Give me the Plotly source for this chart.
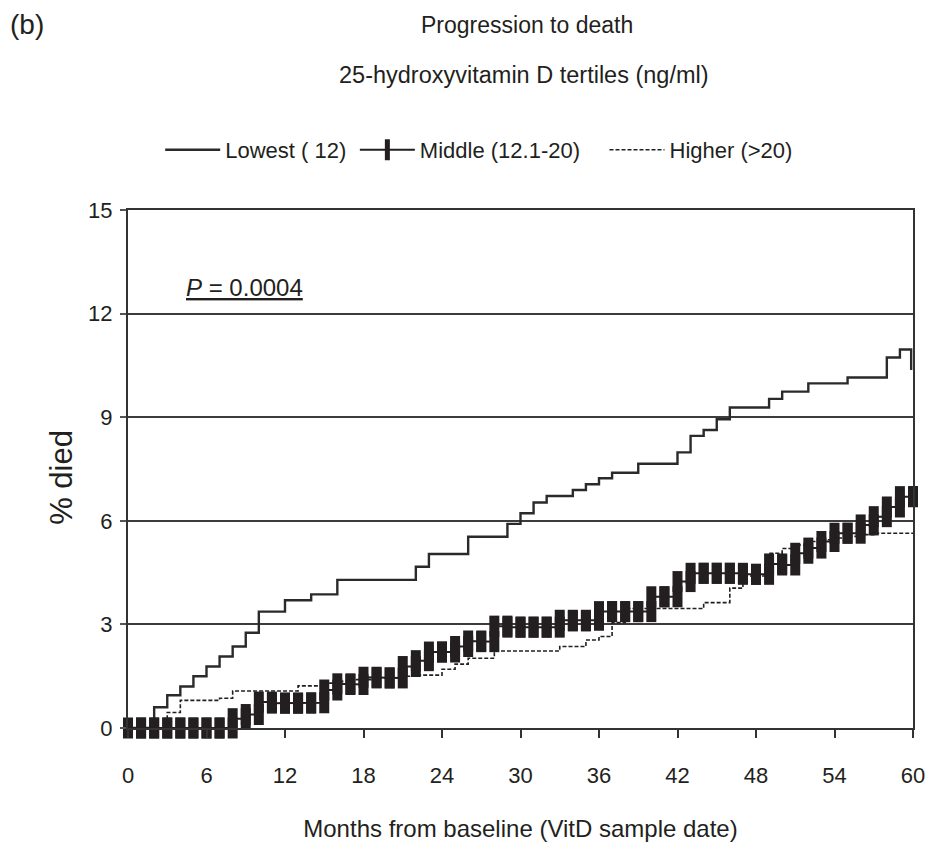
import plotly.graph_objects as go

# ---- data ----
months = list(range(0, 61))

# Lowest tertile (<12 ng/ml): step points (month, % died)
lowest_x = [0, 2, 3, 4, 5, 6, 7, 8, 9, 10, 12, 14, 16, 22, 23, 26, 29, 30, 31, 32,
            34, 35, 36, 37, 39, 42, 43, 44, 45, 46, 49, 50, 52, 55, 58, 59, 59.86]
lowest_y = [0, 0.6, 0.95, 1.2, 1.5, 1.78, 2.07, 2.36, 2.76, 3.37, 3.7, 3.87, 4.29, 4.67, 5.04,
            5.54, 5.91, 6.22, 6.53, 6.72, 6.89, 7.06, 7.23, 7.39, 7.65, 7.98, 8.46, 8.63, 8.94,
            9.28, 9.53, 9.74, 9.98, 10.15, 10.73, 10.96, 10.37]

# Middle tertile (12.1-20 ng/ml): value at each month 0..60
middle_y = [0, 0, 0, 0, 0, 0, 0, 0, 0.27, 0.39, 0.75, 0.72, 0.72, 0.72, 0.73, 1.1, 1.28,
            1.26, 1.47, 1.45, 1.45, 1.78, 1.95, 2.2, 2.2, 2.36, 2.52, 2.5, 2.95, 2.92, 2.92,
            2.92, 2.92, 3.12, 3.1, 3.12, 3.37, 3.37, 3.37, 3.37, 3.8, 3.8, 4.24, 4.48, 4.48,
            4.48, 4.48, 4.45, 4.45, 4.75, 4.72, 5.06, 5.21, 5.4, 5.64, 5.64, 5.88, 6.12, 6.4,
            6.7, 6.7]

# Higher tertile (>20 ng/ml): value at each month 0..60
higher_y = [0, 0, 0, 0.45, 0.8, 0.8, 0.8, 0.86, 1.07, 1.07, 1.07, 1.07, 1.07, 1.22, 1.22,
            1.3, 1.35, 1.4, 1.4, 1.45, 1.45, 1.5, 1.53, 1.53, 1.7, 1.85, 2.02, 2.02, 2.23,
            2.23, 2.23, 2.23, 2.23, 2.36, 2.36, 2.55, 2.65, 3.05, 3.46, 3.46, 3.46, 3.46,
            3.46, 3.46, 3.63, 3.63, 4.05, 4.4, 4.4, 5.06, 5.2, 5.3, 5.4, 5.45, 5.5, 5.55,
            5.6, 5.64, 5.64, 5.64, 5.64]

x_ticks = list(range(0, 61, 6))
y_ticks = list(range(0, 16, 3))

names = ["Lowest ( 12)", "Middle (12.1-20)", "Higher (>20)"]
title1 = "Progression to death"
title2 = "25-hydroxyvitamin D tertiles (ng/ml)"
x_title = "Months from baseline (VitD sample date)"
y_title = "% died"
p_text = "<u><i>P</i> = 0.0004</u>"
panel = "(b)"

FONT = "Liberation Sans, Arial, sans-serif"
INK = "#231f20"

# build the middle series' step vertices (previous and new value at each month)
mid_x, mid_y = [], []
for i, m in enumerate(months):
    if i > 0:
        mid_x.append(m)
        mid_y.append(middle_y[i - 1])
    mid_x.append(m)
    mid_y.append(middle_y[i])

fig = go.Figure()
fig.add_trace(go.Scatter(
    x=lowest_x, y=lowest_y, name=names[0], mode="lines", legend="legend",
    line=dict(color="#2a2a2a", width=2.4, shape="hv"), cliponaxis=False))
fig.add_trace(go.Scatter(
    x=mid_x, y=mid_y, name=names[1], mode="lines+markers", legend="legend2",
    line=dict(color=INK, width=2),
    marker=dict(symbol="line-ns", size=15, line=dict(color=INK, width=10)),
    cliponaxis=False))
fig.add_trace(go.Scatter(
    x=months, y=higher_y, name=names[2], mode="lines", legend="legend3",
    line=dict(color=INK, width=1.6, shape="hv", dash="4px,2px"), cliponaxis=False))

leg_common = dict(orientation="h", xanchor="left", y=1.116, yanchor="middle",
                  font=dict(family=FONT, size=22, color=INK), itemwidth=55,
                  bgcolor="rgba(0,0,0,0)")

fig.update_layout(
    width=940, height=857,
    margin=dict(l=120, r=35, t=202, b=137),
    paper_bgcolor="white", plot_bgcolor="white",
    font=dict(family=FONT, size=20, color=INK),
    showlegend=True,
    legend=dict(x=0.041, **leg_common),
    legend2=dict(x=0.289, **leg_common),
    legend3=dict(x=0.607, **leg_common),
    annotations=[
        dict(text=title1, x=0.508, y=1.357, xref="paper", yref="paper", showarrow=False,
             xanchor="center", yanchor="middle", font=dict(family=FONT, size=23, color=INK)),
        dict(text=title2, x=0.505, y=1.2606, xref="paper", yref="paper", showarrow=False,
             xanchor="center", yanchor="middle", font=dict(family=FONT, size=23.5, color=INK)),
        dict(text=panel, x=-0.129, y=1.358, xref="paper", yref="paper", showarrow=False,
             xanchor="center", yanchor="middle", font=dict(family=FONT, size=28, color=INK)),
        dict(text=p_text, x=4.3, y=12.75, xref="x", yref="y", showarrow=False,
             xanchor="left", yanchor="middle", font=dict(family=FONT, size=24, color=INK)),
        dict(text=y_title, x=-0.084, y=0.483, xref="paper", yref="paper", showarrow=False,
             textangle=-90, xanchor="center", yanchor="middle",
             font=dict(family=FONT, size=31, color=INK)),
    ],
)

fig.update_xaxes(
    range=[0, 60], tickvals=x_ticks, ticktext=[str(v) for v in x_ticks],
    showgrid=False, zeroline=False,
    showline=True, linecolor="#333333", linewidth=2, mirror=True,
    ticks="outside", ticklen=8, tickwidth=1.5, tickcolor="#333333",
    ticklabelstandoff=19,
    tickfont=dict(family=FONT, size=22, color=INK),
    title=dict(text=x_title, standoff=33, font=dict(family=FONT, size=24, color=INK)),
)
fig.update_yaxes(
    range=[0, 15], tickvals=y_ticks, ticktext=[str(v) for v in y_ticks],
    showgrid=True, gridcolor="#3c3c3c", gridwidth=2, zeroline=False,
    showline=True, linecolor="#333333", linewidth=2, mirror=True,
    ticks="outside", ticklen=6, tickwidth=1.5, tickcolor="#555555",
    ticklabelstandoff=3,
    tickfont=dict(family=FONT, size=22, color=INK),
)

fig.write_html("out.html")
